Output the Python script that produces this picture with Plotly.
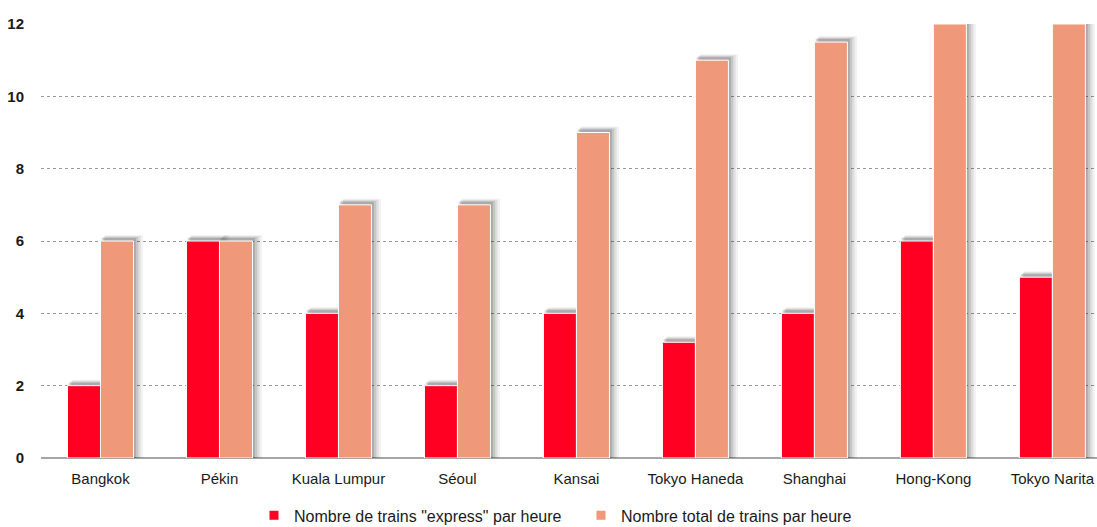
import plotly.graph_objects as go

# Airport rail links: trains per hour
airports = ["Bangkok", "Pékin", "Kuala Lumpur", "Séoul", "Kansai",
            "Tokyo Haneda", "Shanghai", "Hong-Kong", "Tokyo Narita"]
express_per_hour = [2, 6, 4, 2, 4, 3.2, 4, 6, 5]
total_per_hour = [6, 6, 7, 7, 9, 11, 11.5, 12, 12]

express_name = 'Nombre de trains "express" par heure'
total_name = "Nombre total de trains par heure"

RED = "rgb(255,0,34)"
SALMON = "rgb(240,152,122)"
FONT = "Liberation Sans, Arial, sans-serif"

W, H = 1097, 527
M_L, M_R, M_T, M_B = 41, 0, 24, 69
Y_MAX = 12
X_RANGE = [-0.5, 8.375]

plot_w = W - M_L - M_R
plot_h = H - M_T - M_B
px_x = (X_RANGE[1] - X_RANGE[0]) / plot_w   # category units per pixel
px_y = Y_MAX / plot_h                        # data units per pixel

bar_w = 33 * px_x
x_idx = list(range(len(airports)))

fig = go.Figure()

# soft drop shadow behind each bar (a few stacked translucent layers)
shadow_layers = [(8, 6, 0.05), (6, 5, 0.08), (4, 4, 0.11), (2, 3, 0.14)]
for values, offset in ((express_per_hour, -bar_w), (total_per_hour, 0.0)):
    for dx, dy, alpha in shadow_layers:
        fig.add_trace(go.Bar(
            x=x_idx, y=[v + dy * px_y for v in values],
            width=bar_w + dx * px_x * 0.6, offset=offset + dx * px_x * 0.6,
            marker=dict(color=f"rgba(0,0,0,{alpha})", line=dict(width=0)),
            showlegend=False, hoverinfo="skip",
        ))

fig.add_trace(go.Bar(
    x=x_idx, y=express_per_hour, name=express_name,
    width=bar_w, offset=-bar_w, showlegend=False,
    marker=dict(color=RED, line=dict(color="white", width=1)),
))
fig.add_trace(go.Bar(
    x=x_idx, y=total_per_hour, name=total_name,
    width=bar_w, offset=0.0, showlegend=False,
    marker=dict(color=SALMON, line=dict(color="white", width=1)),
))

# legend entries with small square swatches
for name, color in ((express_name, RED), (total_name, SALMON)):
    fig.add_trace(go.Scatter(
        x=[None], y=[None], mode="markers", name=name,
        marker=dict(symbol="square", size=9, color=color),
    ))

fig.update_layout(
    width=W, height=H,
    margin=dict(l=M_L, r=M_R, t=M_T, b=M_B, autoexpand=False),
    barmode="overlay",
    plot_bgcolor="white", paper_bgcolor="white",
    font=dict(family=FONT, color="#1a1a1a"),
    legend=dict(
        orientation="h", x=0.2017, xanchor="left", y=-0.093, yanchor="top",
        font=dict(size=16, color="#1a1a1a"),
        entrywidth=282, entrywidthmode="pixels",
        traceorder="normal",
    ),
    xaxis=dict(
        range=X_RANGE, tickmode="array", tickvals=x_idx, ticktext=airports,
        showgrid=False, zeroline=False, showline=False, ticks="",
        ticklabelstandoff=10, automargin=False,
        tickfont=dict(size=15, color="#1a1a1a"),
    ),
    yaxis=dict(
        range=[0, Y_MAX], dtick=2, showgrid=True,
        gridcolor="#9a9a9a", griddash="3px,3px", gridwidth=1,
        zeroline=True, zerolinecolor="#a6a6a6", zerolinewidth=2,
        showline=False, ticks="", ticklabelstandoff=16, automargin=False,
        tickfont=dict(size=15, color="#1a1a1a", weight="bold"),
    ),
)

fig.write_html("out.html")
